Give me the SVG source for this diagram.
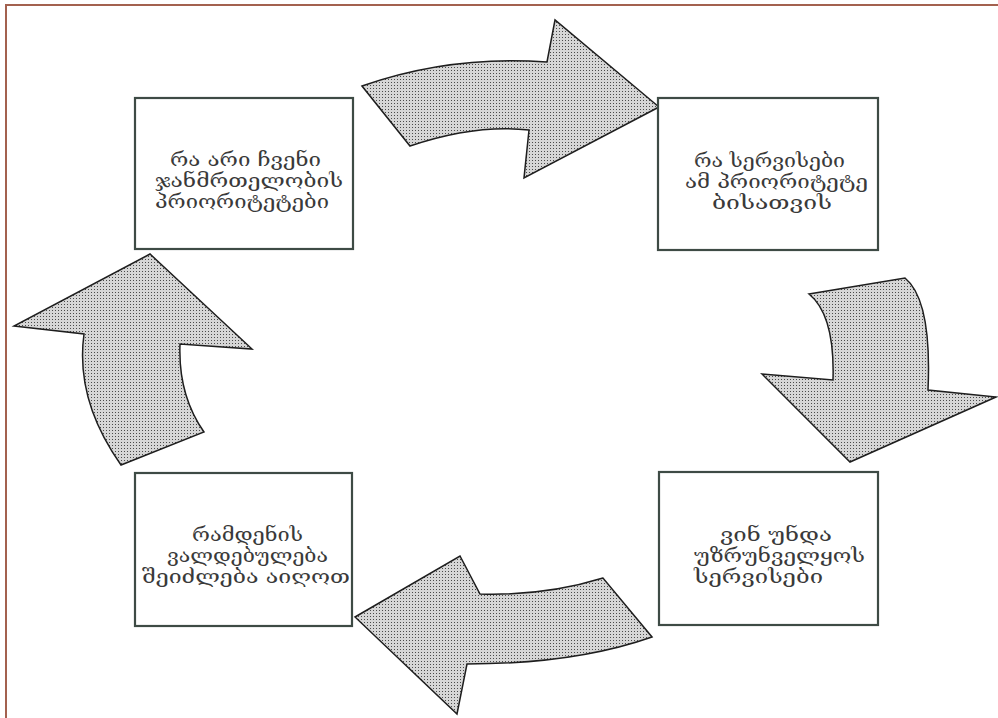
<svg xmlns="http://www.w3.org/2000/svg" width="998" height="718" viewBox="0 0 998 718">
  <defs>
    <pattern id="dots" width="3" height="3" patternUnits="userSpaceOnUse">
      <rect width="3" height="3" fill="#d6d6d6"/>
      <rect x="1" y="1" width="1" height="1" fill="#4a4a4a"/>
    </pattern>
    <style>
      .frame { fill: none; stroke: #a3614f; stroke-width: 2; }
      .box { fill: #ffffff; stroke: #3e4b45; stroke-width: 2.2; }
      .arrow { fill: url(#dots); stroke: #1e1e1e; stroke-width: 1.5; stroke-linejoin: miter; }
      .lbl { font-family: "DejaVu Serif", "DejaVu Sans", serif; font-size: 18px; fill: #3a3a3a; }
    </style>
  </defs>

  <rect width="998" height="718" fill="#ffffff"/>
  <!-- page frame (top and left edges) -->
  <path class="frame" d="M6,718 V5 H998"/>

  <!-- curved block arrows -->
  <g id="connectors">
    <path id="arrow-top" class="arrow" d="M362,86 Q450,55 547,62 L555,20 L659,107 L524,178 L529,130 Q475,124 410,146 Z"/>
    <path id="arrow-right" class="arrow" d="M809,294 Q835,315 833,380 L762,374 L850,462 L996,397 L928,390 Q932,300 905,278 Z"/>
    <path id="arrow-bottom" class="arrow" d="M652,637 Q575,664 467,664 L457,714 L355,617 L460,556 L480,594 Q545,596 603,578 Z"/>
    <path id="arrow-left" class="arrow" d="M121,465 Q75,400 84,334 L14,326 L150,254 L252,349 L180,344 Q178,395 204,432 Z"/>
  </g>

  <g id="node-priorities">
    <rect class="box" x="135" y="98" width="218" height="151"/>
    <text class="lbl" x="170" y="166" textLength="151" lengthAdjust="spacingAndGlyphs">რა არი ჩვენი</text>
    <text class="lbl" x="155" y="187" textLength="188" lengthAdjust="spacingAndGlyphs">ჯანმრთელობის</text>
    <text class="lbl" x="155" y="208" textLength="174" lengthAdjust="spacingAndGlyphs">პრიორიტეტები</text>
  </g>

  <g id="node-services">
    <rect class="box" x="658" y="98" width="220" height="152"/>
    <text class="lbl" x="694" y="167" textLength="151" lengthAdjust="spacingAndGlyphs">რა სერვისები</text>
    <text class="lbl" x="685" y="188" textLength="183" lengthAdjust="spacingAndGlyphs">ამ პრიორიტეტე</text>
    <text class="lbl" x="712" y="209" textLength="120" lengthAdjust="spacingAndGlyphs">ბისათვის</text>
  </g>

  <g id="node-providers">
    <rect class="box" x="659" y="472" width="219" height="153"/>
    <text class="lbl" x="720" y="541" textLength="112" lengthAdjust="spacingAndGlyphs">ვინ უნდა</text>
    <text class="lbl" x="694" y="562" textLength="171" lengthAdjust="spacingAndGlyphs">უზრუნველყოს</text>
    <text class="lbl" x="694" y="583" textLength="129" lengthAdjust="spacingAndGlyphs">სერვისები</text>
  </g>

  <g id="node-commitment">
    <rect class="box" x="135" y="473" width="217" height="153"/>
    <text class="lbl" x="192" y="541" textLength="111" lengthAdjust="spacingAndGlyphs">რამდენის</text>
    <text class="lbl" x="167" y="562" textLength="161" lengthAdjust="spacingAndGlyphs">ვალდებულება</text>
    <text class="lbl" x="142" y="583" textLength="208" lengthAdjust="spacingAndGlyphs">შეიძლება აიღოთ</text>
  </g>
</svg>
